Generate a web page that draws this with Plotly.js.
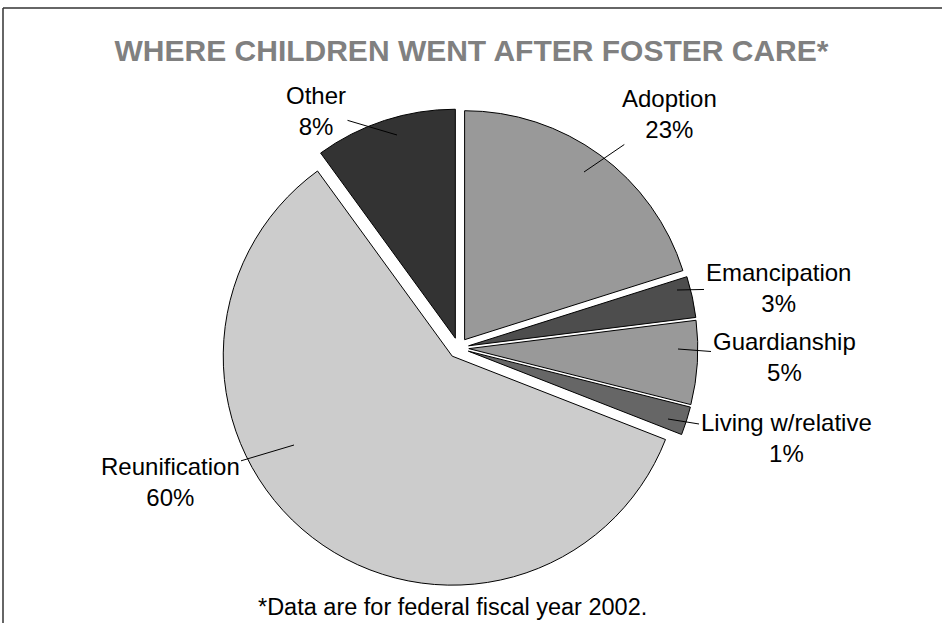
<!DOCTYPE html>
<html>
<head>
<meta charset="utf-8">
<script src="https://cdn.plot.ly/plotly-3.0.1.min.js"></script>
<style>
html,body{margin:0;padding:0;background:#fff;}
#chart{width:942px;height:623px;}
</style>
</head>
<body>
<div id="chart"></div>
<script>
// ---- data ----
const categories = ["Adoption", "Emancipation", "Guardianship", "Living w/relative", "Reunification", "Other"];
// slice sizes as drawn (angles)
const sliceValues = [20.1, 2.9, 5.9, 2.0, 59.0, 10.0];
// percentages printed on the labels
const labelPercents = [23, 3, 5, 1, 60, 8];
const sliceColors = ["#999999", "#4d4d4d", "#999999", "#666666", "#cccccc", "#333333"];

const W = 942, H = 623;
const px = x => x / W;
const py = y => 1 - y / H;

// label placement: [text centre x, text centre y, leader tip x, leader tip y] in pixels
const labelPlacement = [
  [669, 114, 584, 172],
  [778, 288, 677, 290],
  [784, 357, 678, 349],
  [786, 438, 668, 419],
  [170, 482, 294, 445],
  [316, 111, 397, 135]
];

const labelFont = {family: "Liberation Sans, Arial, sans-serif", size: 24, color: "#000"};

const annotations = categories.map((c, i) => {
  const p = labelPlacement[i];
  return {
    xref: "paper", yref: "paper",
    x: px(p[2]), y: py(p[3]),
    ax: p[0] - p[2], ay: p[1] - p[3],
    text: c + "<br>" + labelPercents[i] + "%",
    showarrow: true, arrowhead: 0, arrowwidth: 1, arrowcolor: "#000",
    standoff: 0, startstandoff: 0,
    font: labelFont, align: "center"
  };
});

annotations.push({
  xref: "paper", yref: "paper",
  x: px(452), y: py(607), xanchor: "center", yanchor: "middle",
  text: "*Data are for federal fiscal year 2002.",
  showarrow: false,
  font: {family: "Liberation Sans, Arial, sans-serif", size: 23.5, color: "#000"}
});

const trace = {
  type: "pie",
  labels: categories,
  values: sliceValues,
  sort: false,
  direction: "clockwise",
  rotation: 0,
  pull: 0.045,
  textinfo: "none",
  hoverinfo: "skip",
  marker: {colors: sliceColors, line: {color: "#000", width: 1}},
  domain: {x: [0.2327, 0.7408], y: [0.0573, 0.8255]},
  showlegend: false
};

const layout = {
  width: W, height: H,
  margin: {l: 0, r: 0, t: 0, b: 0},
  paper_bgcolor: "#fff",
  showlegend: false,
  title: {
    text: "<b>WHERE CHILDREN WENT AFTER FOSTER CARE*</b>",
    font: {family: "Liberation Sans, Arial, sans-serif", size: 30, color: "#808080"},
    x: px(471.5), xanchor: "center", xref: "paper",
    y: py(50), yanchor: "middle", yref: "container"
  },
  annotations: annotations,
  shapes: [
    {type: "line", xref: "paper", yref: "paper", x0: px(3), x1: 1, y0: py(8), y1: py(8), line: {color: "#333", width: 1.5}},
    {type: "line", xref: "paper", yref: "paper", x0: px(3), x1: px(3), y0: py(8), y1: 0, line: {color: "#333", width: 1.5}}
  ]
};

Plotly.newPlot("chart", [trace], layout, {displayModeBar: false, staticPlot: true});
</script>
</body>
</html>
